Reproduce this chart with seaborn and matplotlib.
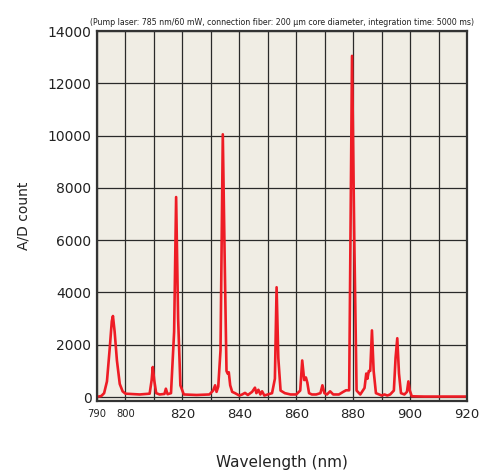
import numpy as np
import seaborn as sns
import matplotlib.pyplot as plt

# Raman spectrum: wavelength (nm) vs A/D count
wavelength = [790.5, 791.5, 792.5, 793.5, 794.5, 795.2, 795.6, 796.2, 797.0, 798.0,
              799.0, 800.0, 805.0, 808.5, 809.2, 809.6, 810.1, 810.8, 812.0, 813.7,
              814.2, 814.8, 816.0, 817.1, 817.8, 818.5, 819.3, 820.5, 825.0, 829.5,
              830.8, 831.5, 832.0, 832.6, 833.4, 834.2, 834.9, 835.5, 835.9, 836.3,
              836.8, 837.5, 838.5, 840.0, 841.0, 842.0, 843.0, 844.5, 845.5, 846.0,
              846.7, 847.4, 848.0, 848.8, 850.0, 851.5, 852.5, 853.1, 853.7, 854.5,
              856.0, 858.0, 860.0, 861.4, 862.1, 862.8, 863.4, 863.9, 864.5, 865.5,
              867.0, 868.5, 869.2, 869.9, 870.8, 871.9, 873.0, 875.0, 876.5, 877.5,
              878.6, 879.6, 880.4, 881.2, 882.5, 884.0, 884.6, 885.0, 885.5, 886.0,
              886.6, 887.2, 888.0, 890.0, 891.0, 892.0, 893.0, 894.3, 894.9, 895.5,
              896.1, 896.8, 898.0, 898.9, 899.4, 899.9, 900.6, 905.0, 920.0]
counts = [20, 40, 150, 600, 1900, 2900, 3100, 2500, 1400, 500,
          220, 130, 100, 130, 650, 1150, 650, 150, 100, 120,
          320, 110, 150, 2500, 7650, 3000, 450, 100, 80, 100,
          250, 450, 200, 400, 1800, 10050, 5000, 1000, 900, 950,
          450, 200, 150, 60, 100, 160, 80, 200, 360, 150,
          280, 100, 220, 60, 100, 150, 700, 4200, 1500, 250,
          150, 100, 100, 250, 1400, 650, 750, 550, 150, 100,
          100, 150, 450, 150, 100, 220, 100, 100, 200, 260,
          260, 13050, 6000, 250, 100, 350, 900, 700, 1000, 1000,
          2550, 1000, 150, 60, 100, 60, 100, 250, 1500, 2250,
          900, 150, 100, 200, 600, 250, 30, 20, 20]

title_text = ("(Pump laser: 785 nm/60 mW, connection fiber: 200 \u00b5m core diameter, "
              "integration time: 5000 ms)")
x_major = [820, 840, 860, 880, 900, 920]
x_minor = [790, 800]
y_ticks = [0, 2000, 4000, 6000, 8000, 10000, 12000, 14000]

sns.set_theme(style="white")
plt.rcParams['font.family'] = ['DejaVu Sans']

fig = plt.figure(figsize=(4.84, 4.70), dpi=100)
ax = fig.add_axes([0.2004, 0.1468, 0.7645, 0.7872])
ax.set_facecolor('#f0ede4')

sns.lineplot(x=wavelength, y=counts, color='#ee1c25', linewidth=1.9, ax=ax)

ax.set_xlim(790, 920)
ax.set_ylim(-150, 14000)
ax.set_xticks(np.arange(790, 921, 10))
ax.set_xticklabels([])
ax.set_yticks(y_ticks)
ax.set_yticklabels([str(v) for v in y_ticks], fontsize=10, color='#222222')
ax.tick_params(axis='both', length=0, pad=4)
ax.grid(True, color='#2a2a2a', linewidth=0.9)

# x labels: two small ones at the left, bigger ones from 820 on
for v in x_minor:
    ax.text(v, -0.022, str(v), transform=ax.get_xaxis_transform(), ha='center',
            va='top', fontsize=8, color='#222222', stretch='condensed')
for v in x_major:
    ax.text(v, -0.02, str(v), transform=ax.get_xaxis_transform(), ha='center',
            va='top', fontsize=9.5, color='#222222')

for s in ax.spines.values():
    s.set_visible(True)
    s.set_color('#333333')
    s.set_linewidth(1.6)

ax.set_xlabel("Wavelength (nm)", fontsize=11, labelpad=35, color='#222222')
ax.set_ylabel("A/D count", fontsize=10, labelpad=12, color='#222222')
ax.set_title(title_text, fontsize=6.3, pad=4, color='#222222',
             stretch='condensed')

fig.savefig("out.png", dpi=100)
